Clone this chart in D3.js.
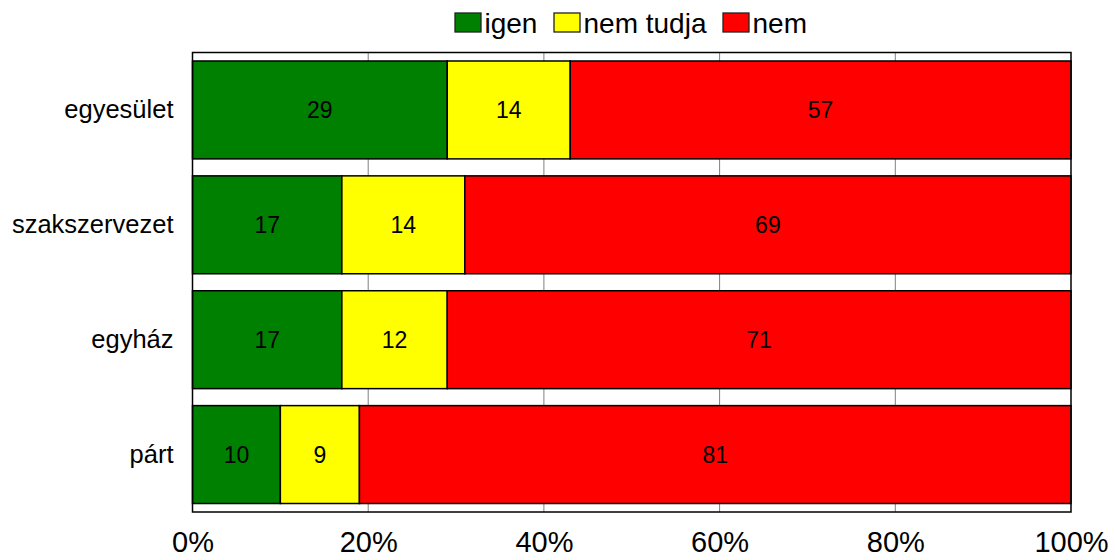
<!DOCTYPE html>
<html><head><meta charset="utf-8">
<script src="https://cdn.jsdelivr.net/npm/d3@7"></script>
<style>body{margin:0;background:#fff}svg{display:block;font-family:"Liberation Sans",Arial,sans-serif}</style>
</head><body>
<svg id="c" width="1115" height="560"></svg>
<script>
const categories = ["egyesület","szakszervezet","egyház","párt"];
const seriesNames = ["igen","nem tudja","nem"];
const igen = [29,17,17,10];
const nemTudja = [14,14,12,9];
const nem = [57,69,71,81];
const tickValues = [0,20,40,60,80,100];
const colors = ["#008000","#FFFF00","#FF0000"];

const svg = d3.select("#c");
const L=192.5, R=1071, T=52.5, B=512;
const x = d3.scaleLinear().domain([0,100]).range([L,R]);
const y = d3.scaleBand().domain(categories).range([T,B]).paddingInner(17/115).paddingOuter(17/230);

const rows = categories.map((c,i)=>({cat:c, vals:[igen[i],nemTudja[i],nem[i]]}));
const stackData = rows.map(r=>({cat:r.cat, "igen":r.vals[0], "nem tudja":r.vals[1], "nem":r.vals[2]}));
const stacked = d3.stack().keys(seriesNames)(stackData);

// gridlines
svg.append("g").selectAll("line").data(tickValues.slice(1,-1)).join("line")
  .attr("x1",d=>x(d)).attr("x2",d=>x(d)).attr("y1",T).attr("y2",B)
  .attr("stroke","#808080").attr("stroke-width",1);

// bars
const g = svg.append("g");
stacked.forEach((s,si)=>{
  g.append("g").selectAll("rect").data(s).join("rect")
    .attr("x",d=>x(d[0])).attr("width",d=>x(d[1])-x(d[0]))
    .attr("y",d=>y(d.data.cat)).attr("height",y.bandwidth())
    .attr("fill",colors[si]).attr("stroke","#000").attr("stroke-width",1.5);
  g.append("g").selectAll("text").data(s).join("text")
    .attr("x",d=>(x(d[0])+x(d[1]))/2).attr("y",d=>y(d.data.cat)+y.bandwidth()/2)
    .attr("text-anchor","middle").attr("dominant-baseline","central")
    .attr("font-size",23).attr("fill","#000")
    .text(d=>d[1]-d[0]);
});

// frame
svg.append("rect").attr("x",L).attr("y",T).attr("width",R-L).attr("height",B-T)
  .attr("fill","none").attr("stroke","#000").attr("stroke-width",1.5);

// category axis
const yAxis = svg.append("g").attr("transform",`translate(${L},0)`)
  .call(d3.axisLeft(y).tickSize(0).tickPadding(19));
yAxis.select(".domain").remove();
yAxis.selectAll("text").attr("font-size",25.5).attr("fill","#000")
  .attr("font-family","Liberation Sans, Arial, sans-serif");

// x axis
const xAxis = svg.append("g").attr("transform",`translate(0,${B})`)
  .call(d3.axisBottom(x).tickValues(tickValues).tickFormat(d=>d+"%").tickSize(0).tickPadding(19));
xAxis.select(".domain").remove();
xAxis.selectAll("text").attr("font-size",29).attr("fill","#000")
  .attr("font-family","Liberation Sans, Arial, sans-serif");

// legend
const legX = [455,554,723];
const leg = svg.append("g");
seriesNames.forEach((n,i)=>{
  leg.append("rect").attr("x",legX[i]).attr("y",13).attr("width",26).attr("height",19)
    .attr("fill",colors[i]).attr("stroke","#222").attr("stroke-width",1.3);
  leg.append("text").attr("x",legX[i]+29.5).attr("y",33).attr("font-size",28).attr("fill","#000").text(n);
});
</script>
</body></html>
